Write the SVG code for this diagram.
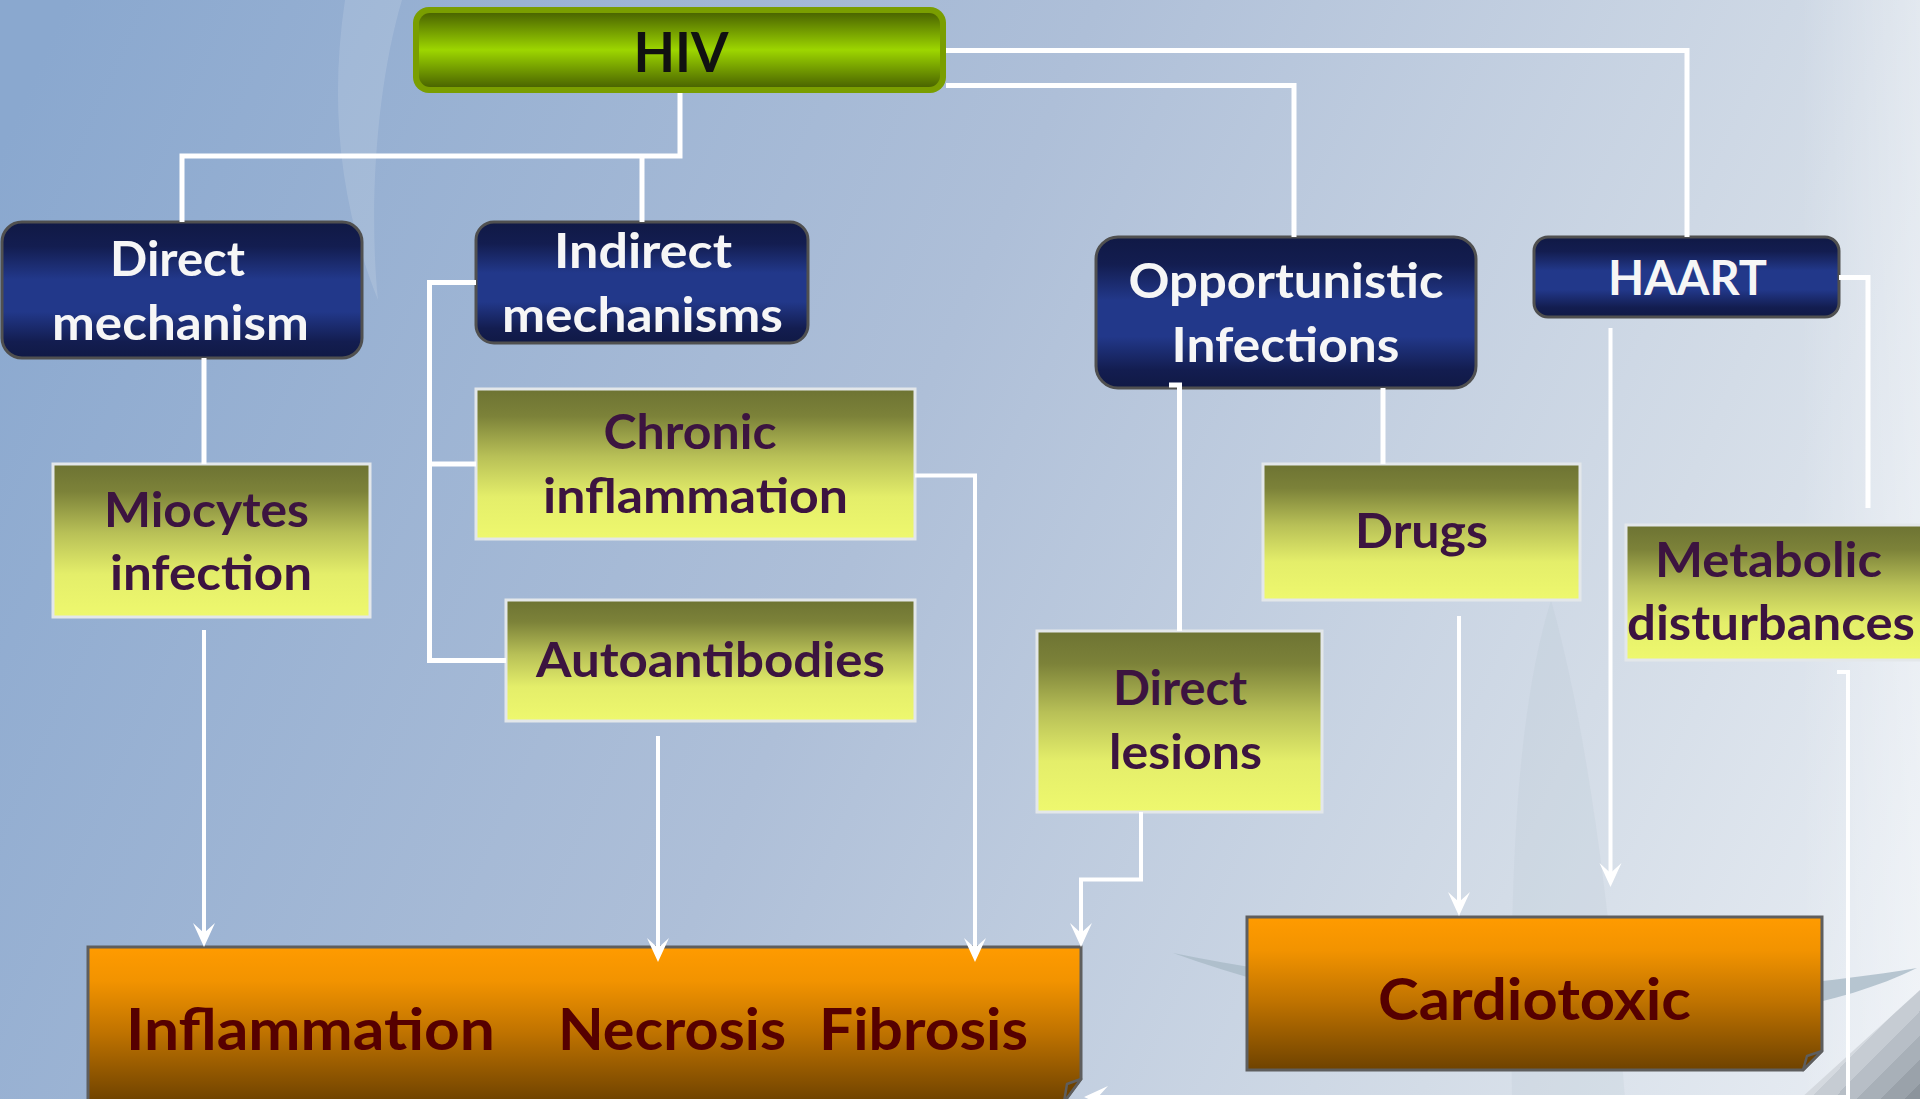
<svg xmlns="http://www.w3.org/2000/svg" width="1920" height="1099" viewBox="0 0 1920 1099">
<defs>
<linearGradient id="bg" gradientUnits="userSpaceOnUse" x1="0" y1="150" x2="1920" y2="1000">
<stop offset="0" stop-color="#8aa8cf"/>
<stop offset="0.45" stop-color="#aebfd8"/>
<stop offset="0.8" stop-color="#d3dce7"/>
<stop offset="1" stop-color="#e8edf3"/>
</linearGradient>
<linearGradient id="edge" x1="0" y1="0" x2="1" y2="0">
<stop offset="0" stop-color="#ffffff" stop-opacity="0"/>
<stop offset="1" stop-color="#ffffff" stop-opacity="0.35"/>
</linearGradient>
<linearGradient id="stripes" gradientUnits="userSpaceOnUse" x1="1840" y1="1020" x2="1920" y2="1099">
<stop offset="0" stop-color="#e2e7ec"/>
<stop offset="0.15" stop-color="#e2e7ec"/><stop offset="0.15" stop-color="#d4d9df"/>
<stop offset="0.3" stop-color="#d4d9df"/><stop offset="0.3" stop-color="#c6ccd3"/>
<stop offset="0.45" stop-color="#c6ccd3"/><stop offset="0.45" stop-color="#b7bec6"/>
<stop offset="0.6" stop-color="#b7bec6"/><stop offset="0.6" stop-color="#a8b0b8"/>
<stop offset="0.75" stop-color="#a8b0b8"/><stop offset="0.75" stop-color="#9aa2aa"/>
<stop offset="0.9" stop-color="#9aa2aa"/><stop offset="0.9" stop-color="#8c949c"/>
<stop offset="1" stop-color="#8c949c"/>
</linearGradient>
<linearGradient id="green" x1="0" y1="0" x2="0" y2="1">
<stop offset="0" stop-color="#4b6500"/>
<stop offset="0.5" stop-color="#9dd600"/>
<stop offset="1" stop-color="#4b6500"/>
</linearGradient>
<linearGradient id="navy" x1="0" y1="0" x2="0" y2="1">
<stop offset="0" stop-color="#101945"/>
<stop offset="0.18" stop-color="#131d50"/>
<stop offset="0.42" stop-color="#22388a"/>
<stop offset="0.66" stop-color="#22388a"/>
<stop offset="0.88" stop-color="#131d50"/>
<stop offset="1" stop-color="#101945"/>
</linearGradient>
<linearGradient id="yellow" x1="0" y1="0" x2="0" y2="1">
<stop offset="0" stop-color="#6d7333"/>
<stop offset="0.18" stop-color="#7c8239"/>
<stop offset="0.45" stop-color="#b8c057"/>
<stop offset="0.72" stop-color="#e4ee6a"/>
<stop offset="1" stop-color="#eef86e"/>
</linearGradient>
<linearGradient id="orange" x1="0" y1="0" x2="0" y2="1">
<stop offset="0" stop-color="#ff9b00"/>
<stop offset="0.22" stop-color="#f29300"/>
<stop offset="0.55" stop-color="#c07300"/>
<stop offset="1" stop-color="#6e4200"/>
</linearGradient>
<marker id="arr" viewBox="-16 -12 28 24" refX="0" refY="0" markerWidth="28" markerHeight="24" markerUnits="userSpaceOnUse" orient="auto">
<path d="M10,0 L-14,-11 L-4,0 L-14,11 Z" fill="#ffffff"/>
</marker>
<style>
.nv{fill:url(#navy);stroke:#505050;stroke-width:3}
.yl{fill:url(#yellow);stroke:#e3e7ea;stroke-width:3}
.or{fill:url(#orange);stroke:#5e5e5e;stroke-width:3}
.fold{fill:#6e4200;stroke:#5e5e5e;stroke-width:2.5;stroke-linejoin:round}
text{font-family:Lato,"Open Sans","DejaVu Sans",sans-serif;font-weight:bold;text-anchor:middle}
.tw{fill:#f6f6f6;font-size:47px}
.ty{fill:#3c1440;font-size:47px}
.to{fill:#560000;font-size:57px}
.th{fill:#111111;font-size:56px}
.cn{fill:none;stroke:#ffffff;stroke-width:5}
.ca{fill:none;stroke:#ffffff;stroke-width:4;marker-end:url(#arr)}
</style>
</defs>

<g id="background">
<rect x="0" y="0" width="1920" height="1099" fill="url(#bg)"/>
<rect x="1800" y="0" width="120" height="1099" fill="url(#edge)"/>
<path d="M345,0 C330,100 338,200 378,300 C368,200 378,80 402,0 Z" fill="#ffffff" opacity="0.13"/>
<path d="M1551,600 C1520,700 1508,850 1512,1099 L1625,1099 C1610,900 1585,720 1551,600 Z" fill="#b4c2cf" opacity="0.18"/>
<path d="M1173,953 C1400,1000 1700,1005 1917,968 C1760,1045 1440,1050 1173,953 Z" fill="#a9bac7" opacity="0.8"/>
<path d="M1800,1099 L1920,990 L1920,1099 Z" fill="url(#stripes)"/>
</g>

<g id="node-hiv">
<rect x="413" y="7" width="533" height="86" rx="16" fill="#7a9e00"/>
<rect x="419" y="13" width="521" height="74" rx="11" fill="url(#green)"/>
<text class="th" x="681" y="72" textLength="95" lengthAdjust="spacingAndGlyphs">HIV</text>
</g>

<g id="node-direct-mechanism">
<rect class="nv" x="2" y="222" width="360" height="136" rx="20"/>
<text class="tw" x="177.5" y="276" textLength="135" lengthAdjust="spacingAndGlyphs">Direct</text>
<text class="tw" x="180.5" y="340" textLength="257" lengthAdjust="spacingAndGlyphs">mechanism</text>
</g>

<g id="node-indirect-mechanisms">
<rect class="nv" x="476" y="222" width="332" height="121" rx="18"/>
<text class="tw" x="643" y="268" textLength="178" lengthAdjust="spacingAndGlyphs">Indirect</text>
<text class="tw" x="642.5" y="332" textLength="281" lengthAdjust="spacingAndGlyphs">mechanisms</text>
</g>

<g id="node-opportunistic">
<rect class="nv" x="1096" y="237" width="380" height="151" rx="22"/>
<text class="tw" x="1286" y="298" textLength="315" lengthAdjust="spacingAndGlyphs">Opportunistic</text>
<text class="tw" x="1285.5" y="362" textLength="228" lengthAdjust="spacingAndGlyphs">Infections</text>
</g>

<g id="node-haart">
<rect class="nv" x="1534" y="237" width="305" height="80" rx="14"/>
<text class="tw" x="1687.5" y="295" textLength="159" lengthAdjust="spacingAndGlyphs">HAART</text>
</g>

<g id="node-miocytes">
<rect class="yl" x="53" y="464" width="317" height="153"/>
<text class="ty" x="206.5" y="527" textLength="205" lengthAdjust="spacingAndGlyphs">Miocytes</text>
<text class="ty" x="211" y="590" textLength="202" lengthAdjust="spacingAndGlyphs">infection</text>
</g>

<g id="node-chronic">
<rect class="yl" x="476" y="389" width="439" height="150"/>
<text class="ty" x="690" y="449" textLength="173" lengthAdjust="spacingAndGlyphs">Chronic</text>
<text class="ty" x="695.5" y="513" textLength="305" lengthAdjust="spacingAndGlyphs">inflammation</text>
</g>

<g id="node-autoantibodies">
<rect class="yl" x="506" y="600" width="409" height="121"/>
<text class="ty" x="710.5" y="677" textLength="349" lengthAdjust="spacingAndGlyphs">Autoantibodies</text>
</g>

<g id="node-drugs">
<rect class="yl" x="1263" y="464" width="317" height="136"/>
<text class="ty" x="1421.5" y="548" textLength="133" lengthAdjust="spacingAndGlyphs">Drugs</text>
</g>

<g id="node-direct-lesions">
<rect class="yl" x="1037" y="631" width="285" height="181"/>
<text class="ty" x="1180" y="705" textLength="134" lengthAdjust="spacingAndGlyphs">Direct</text>
<text class="ty" x="1185.5" y="769" textLength="153" lengthAdjust="spacingAndGlyphs">lesions</text>
</g>

<g id="node-metabolic">
<rect class="yl" x="1626" y="525" width="296" height="135"/>
<text class="ty" x="1768.5" y="577" textLength="227" lengthAdjust="spacingAndGlyphs">Metabolic</text>
<text class="ty" x="1771" y="640" textLength="288" lengthAdjust="spacingAndGlyphs">disturbances</text>
</g>

<g id="node-outcomes">
<path class="or" d="M88,947 H1081 V1079 L1064,1102 H88 Z"/>
<path class="fold" d="M1081,1079 L1067,1084 L1064,1102 Z"/>
<text class="to" x="310.5" y="1050" textLength="369" lengthAdjust="spacingAndGlyphs">Inflammation</text>
<text class="to" x="672" y="1050" textLength="228" lengthAdjust="spacingAndGlyphs">Necrosis</text>
<text class="to" x="923.5" y="1050" textLength="209" lengthAdjust="spacingAndGlyphs">Fibrosis</text>
</g>

<g id="node-cardiotoxic">
<path class="or" d="M1247,917 H1822 V1051 L1803,1070 H1247 Z"/>
<path class="fold" d="M1822,1051 L1807,1056 L1803,1070 Z"/>
<text class="to" x="1534.5" y="1020" textLength="313" lengthAdjust="spacingAndGlyphs">Cardiotoxic</text>
</g>

<g id="connectors">
<path class="cn" d="M680,93 V156 H182 V222"/>
<path class="cn" d="M642,156 V222"/>
<path class="cn" d="M946,50.5 H1687 V237"/>
<path class="cn" d="M946,85.5 H1294 V237"/>
<path class="cn" d="M476,282.5 H429.5 V660.5 H506"/>
<path class="cn" d="M429.5,464 H476"/>
<path class="cn" d="M204,358 V464"/>
<path class="cn" d="M1383,388 V464"/>
<path class="cn" d="M1169,385 H1179.5 V631"/>
<path class="cn" d="M1839,277.5 H1868 V508"/>
<path class="ca" d="M204,630 V937"/>
<path class="ca" d="M658,736 V952"/>
<path class="ca" d="M915,475.5 H975 V952"/>
<path class="ca" d="M1141,812 V879.5 H1081 V937"/>
<path class="ca" d="M1610.5,328 V877"/>
<path class="ca" d="M1459,616 V906"/>
<path class="ca" d="M1837,672 H1848 V1097 H1094"/>
</g>
</svg>
